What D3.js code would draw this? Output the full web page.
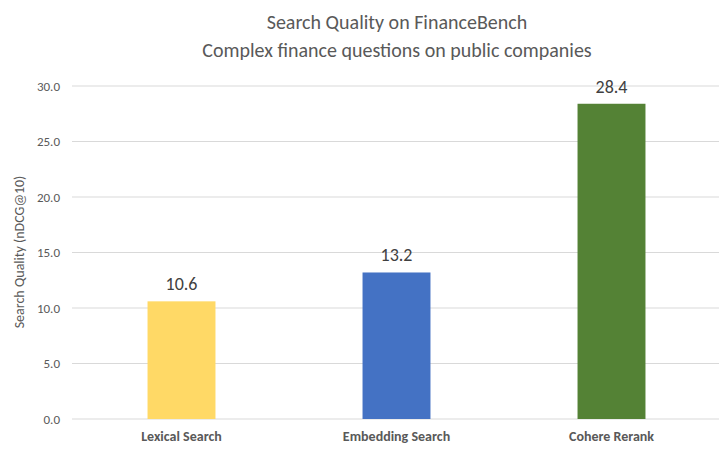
<!DOCTYPE html>
<html>
<head>
<meta charset="utf-8">
<script src="https://cdn.jsdelivr.net/npm/d3@7"></script>
<style>
  body { margin: 0; background: #fff; }
  text { font-family: Calibri, Carlito, "Open Sans", "Liberation Sans", sans-serif; }
</style>
</head>
<body>
<div id="chart"></div>
<script>
// chart data
const categories = ['Lexical Search', 'Embedding Search', 'Cohere Rerank']
const values = [10.6, 13.2, 28.4]
const colors = ['#ffd966', '#4472c4', '#548235']
const yTicks = [0, 5, 10, 15, 20, 25, 30]
const titleLines = ['Search Quality on FinanceBench', 'Complex finance questions on public companies']

const width = 722,
  height = 452

const plot = { left: 74, right: 719, top: 86, bottom: 419 }
const gridLeft = 72

let svg = d3.select('#chart')
  .append('svg')
  .attr('width', width)
  .attr('height', height)
  .style('background', '#fff')

const x = d3.scaleBand()
  .domain(categories)
  .range([plot.left, plot.right])
  .paddingInner(0.684)
  .paddingOuter(0.342)

const y = d3.scaleLinear()
  .domain([0, 30])
  .range([plot.bottom, plot.top])

// gridlines
svg.append('g')
  .selectAll('line')
  .data(yTicks)
  .enter()
  .append('line')
  .attr('x1', gridLeft)
  .attr('x2', plot.right)
  .attr('y1', d => y(d))
  .attr('y2', d => y(d))
  .attr('stroke', '#d9d9d9')
  .attr('stroke-width', 1)

// y axis labels
const yAxis = svg.append('g')
  .attr('transform', `translate(${gridLeft}, 0)`)
  .call(d3.axisLeft(y).tickValues(yTicks).tickFormat(d3.format('.1f')).tickSize(0).tickPadding(12))
yAxis.select('.domain').remove()
yAxis.selectAll('text')
  .style('font-size', '13px')
  .attr('fill', '#595959')

// bars
svg.selectAll('rect.bar')
  .data(values)
  .enter()
  .append('rect')
  .attr('class', 'bar')
  .attr('x', (d, i) => x(categories[i]))
  .attr('y', d => y(d))
  .attr('width', x.bandwidth())
  .attr('height', d => y(0) - y(d))
  .attr('fill', (d, i) => colors[i])

// value labels
svg.selectAll('text.val')
  .data(values)
  .enter()
  .append('text')
  .attr('class', 'val')
  .attr('x', (d, i) => x(categories[i]) + x.bandwidth() / 2)
  .attr('y', d => y(d) - 11)
  .attr('text-anchor', 'middle')
  .style('font-size', '18px')
  .attr('fill', '#404040')
  .text(d => d.toFixed(1))

// x axis labels
const xAxis = svg.append('g')
  .attr('transform', `translate(0, ${plot.bottom})`)
  .call(d3.axisBottom(x).tickSize(0).tickPadding(12))
xAxis.select('.domain').remove()
xAxis.selectAll('text')
  .style('font-size', '14px')
  .style('font-weight', 'bold')
  .attr('fill', '#595959')

// titles
svg.selectAll('text.title')
  .data(titleLines)
  .enter()
  .append('text')
  .attr('class', 'title')
  .attr('x', 397)
  .attr('y', (d, i) => 29 + i * 28)
  .attr('text-anchor', 'middle')
  .style('font-size', '20px')
  .attr('fill', '#595959')
  .text(d => d)

svg.append('text')
  .attr('transform', `translate(24, ${252}) rotate(-90)`)
  .attr('text-anchor', 'middle')
  .style('font-size', '14px')
  .attr('fill', '#595959')
  .text('Search Quality (nDCG@10)')
</script>
</body>
</html>
